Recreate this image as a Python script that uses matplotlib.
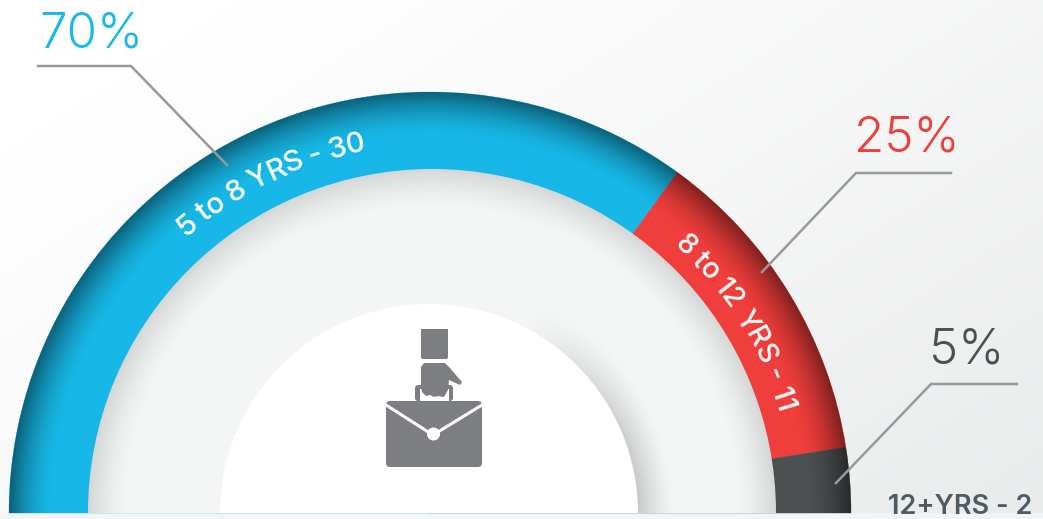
import numpy as np
import matplotlib
matplotlib.use("Agg")
import matplotlib.pyplot as plt
from matplotlib.patches import Wedge, FancyBboxPatch, Polygon, Rectangle, Circle
from matplotlib.font_manager import FontProperties
from matplotlib.textpath import text_to_path

shares = [70, 25, 5]
share_labels = ["70%", "25%", "5%"]
experience_labels = ["5 to 8 YRS - 30", "8 to 12 YRS - 11", "12+YRS - 2"]
colors = ["#17b8e7", "#ef3e3b", "#4c5051"]
label_colors = ["#1cb9e8", "#ef3e3b", "#4c5051"]

W, H = 1043, 519
DPI = 100
CX, CY = 430, 6
BAND_CX = 432
R_OUT, R_RING, R_DISC = 421, 344, 209
FONT = "Inter"

plt.rcParams["font.family"] = [FONT, "DejaVu Sans"]
fig = plt.figure(figsize=(W / DPI, H / DPI), dpi=DPI)
ax = fig.add_axes([0, 0, 1, 1])


def py(y):
    return H - y


xx, yy = np.meshgrid(np.arange(W) + 0.5, np.arange(H) + 0.5)
ext = (0, W, 0, H)
rr = np.hypot(xx - CX, (H - yy) - CY)
rb = np.hypot(xx - BAND_CX, (H - yy) - CY)
tt = np.arctan2((H - yy) - CY, xx - CX)

# page background: soft diagonal gradient
g = np.clip((xx / W * 0.65 + yy / H * 0.5) - 0.15, 0, 1)
g = g ** 1.1
bg = np.dstack([1 - g * 0.085, 1 - g * 0.08, 1 - g * 0.078])
ax.imshow(bg, extent=ext, zorder=0, aspect="auto", interpolation="bilinear")
ax.add_patch(Rectangle((0, 0), W, CY, fc="#f3f4f5", ec="none", zorder=1))

# gauge segments from the shares
start = 180.0
total = sum(shares)
for s, c in zip(shares, colors):
    sweep = 180.0 * s / total
    ax.add_patch(Wedge((CX, CY), R_OUT, start - sweep, start, fc=c, ec=c, lw=0.3, zorder=2))
    start -= sweep

# dark rim on the gauge
ring = Wedge((CX, CY), R_OUT, 0, 180, fc="none", ec="none", zorder=2)
ax.add_patch(ring)
rim = np.zeros((H, W, 4))
rim[..., 3] = 0.48 * np.clip((rr - 376) / (R_OUT - 376), 0, 1) ** 1.7
im2 = ax.imshow(rim, extent=ext, zorder=3, aspect="auto", interpolation="bilinear")
im2.set_clip_path(ring)

# inner band
band = Wedge((BAND_CX, CY), R_RING, 0, 180, fc="#f4f6f6", ec="none", zorder=4)
ax.add_patch(band)
shade = np.zeros((H, W, 4))
a_ring = 0.13 * np.clip((rb - (R_RING - 42)) / 42, 0, 1) ** 1.6
a_disc = 0.2 * np.clip(1 - (rr - R_DISC) / 36, 0, 1) ** 1.4 * np.clip(np.cos(tt) * 1.6 - 0.7, 0, 1)
shade[..., 3] = 1 - (1 - a_ring) * (1 - a_disc)
im = ax.imshow(shade, extent=ext, zorder=5, aspect="auto", interpolation="bilinear")
im.set_clip_path(band)

# white centre
ax.add_patch(Wedge((CX - 1, CY), R_DISC, 0, 180, fc="white", ec="none", zorder=6))

ax.set_xlim(0, W)
ax.set_ylim(0, H)
ax.axis("off")


# text along the arc
def arc_text(s, r_base, a0, a1, size, color="white", weight=500):
    fp = FontProperties(family=FONT, size=size, weight=weight)
    k = DPI / 72
    width = lambda t: text_to_path.get_text_width_height_descent(t, fp, False)[0] * k
    total_w = width(s)
    span = np.radians(a0 - a1) * r_base
    extra = (span - total_w) / max(len(s) - 1, 1)
    for i, ch in enumerate(s):
        pos = width(s[:i + 1]) - width(ch) / 2 + extra * i
        ang = a0 - np.degrees(pos / r_base)
        x = CX + r_base * np.cos(np.radians(ang))
        y = CY + r_base * np.sin(np.radians(ang))
        ax.text(x, y, ch, fontproperties=fp, color=color, rotation=ang - 90,
                rotation_mode="anchor", ha="center", va="baseline", zorder=8)


arc_text(experience_labels[0], 368, 131.5, 100, 21)
arc_text(experience_labels[1], 362, 47.8, 16, 20.5)
ax.text(1032, py(514), experience_labels[2], color="#4e5b63", fontsize=19.5, weight=600,
        ha="right", va="baseline", zorder=8)

# percentage labels and leader lines
pct_anchor = [(39, 47), (854, 152), (929, 364)]
leaders = [
    [(38, 66), (131, 66), (227, 165)],
    [(951, 173), (856, 173), (762, 272)],
    [(1017, 384), (931, 384), (836, 483)],
]
for lab, col, (tx, ty), pts in zip(share_labels, label_colors, pct_anchor, leaders):
    ax.text(tx, py(ty), lab, color=col, fontsize=35.5, weight=300, ha="left", va="baseline", zorder=8)
    ax.plot([p[0] for p in pts], [py(p[1]) for p in pts], color="#98999b", lw=1.8,
            solid_joinstyle="miter", zorder=7)

# briefcase icon
ICON = "#7d7e81"
ax.add_patch(FancyBboxPatch((388, py(465)), 92, 62, boxstyle="round,pad=2,rounding_size=4",
                            fc=ICON, ec="none", zorder=8))
ax.add_patch(FancyBboxPatch((415, py(401)), 38, 16, boxstyle="round,pad=0,rounding_size=3",
                            fc=ICON, ec="none", zorder=8))
ax.add_patch(Rectangle((420, py(401)), 29, 12, fc="white", ec="none", zorder=8.1))
ax.plot([386, 433, 482], [py(405), py(435), py(405)], color="white", lw=2.2, zorder=8.2,
        solid_joinstyle="miter")
ax.add_patch(Circle((433.5, py(434)), 6.5, fc="white", ec="none", zorder=8.3))
ax.add_patch(FancyBboxPatch((421, py(359)), 27, 30, boxstyle="round,pad=0,rounding_size=2",
                            fc=ICON, ec="none", zorder=8.4))
ax.add_patch(Rectangle((421, py(343)), 27, 14, fc=ICON, ec="none", zorder=8.4))
hand = [(421, 367), (424, 363), (445, 363), (449, 367), (462, 382), (460, 385), (449, 380),
        (448, 390), (444, 397), (438, 396), (434, 397), (430, 395), (426, 396), (422, 392), (421, 388)]
ax.add_patch(Polygon([(x, py(y)) for x, y in hand], closed=True, fc=ICON, ec="none", zorder=8.5))

fig.savefig("out.png", dpi=DPI)
